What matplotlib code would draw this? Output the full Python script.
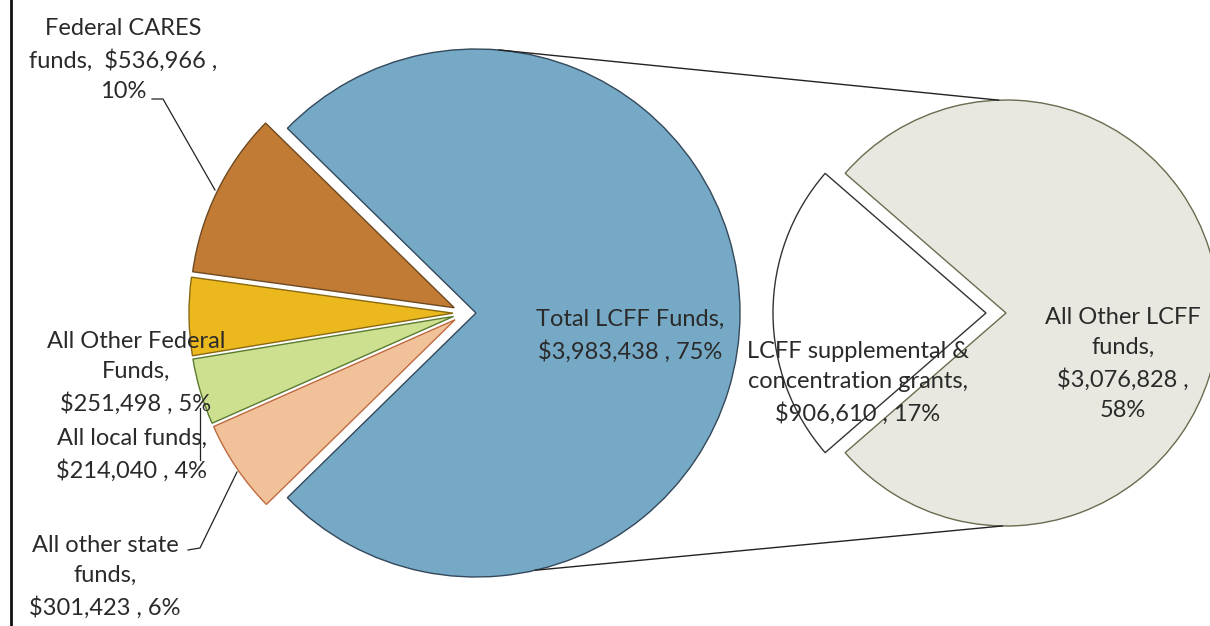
import numpy as np
import matplotlib
matplotlib.use("Agg")
import matplotlib.pyplot as plt

# data
main_labels = ["Total LCFF Funds", "Federal CARES funds", "All Other Federal Funds",
               "All local funds", "All other state funds"]
main_values = [3983438, 536966, 251498, 214040, 301423]
main_pct = ["75%", "10%", "5%", "4%", "6%"]

sub_labels = ["LCFF supplemental & concentration grants", "All Other LCFF funds"]
sub_values = [906610, 3076828]
sub_pct = ["17%", "58%"]

main_colors = ["#76a9c6", "#c27b34", "#ebb81e", "#cde08f", "#f1c29a"]
main_edges = ["#33485a", "#6e4a22", "#8a6a10", "#5a7a30", "#c06a40"]
sub_colors = ["#ffffff", "#e8e8e0"]

W, H = 1210, 626
fig = plt.figure(figsize=(W / 100, H / 100), dpi=100)
ax = fig.add_axes([0, 0, 1, 1])


def px(x, y):
    # image pixel coords (top-left origin) -> data coords
    return x, H - y


# left pie (explode is in data units = pixels here)
c1 = px(465, 313)
r1 = 264
blue_deg = main_values[0] / sum(main_values) * 360
wedges, _ = ax.pie(main_values, colors=main_colors, startangle=-blue_deg / 2,
                   center=c1, radius=r1,
                   explode=[11, 12, 12, 12, 12],
                   wedgeprops=dict(linewidth=1.0), frame=True)
for w, ec in zip(wedges, main_edges):
    w.set_edgecolor(ec)

# right pie
c2 = px(1006, 313)
r2 = 213
white_deg = sub_values[0] / sum(sub_values) * 360
wedges2, _ = ax.pie(sub_values, colors=sub_colors, startangle=180 - white_deg / 2,
                    center=c2, radius=r2, explode=[20, 0],
                    wedgeprops=dict(linewidth=1.0, edgecolor="#333333"), frame=True)
wedges2[1].set_edgecolor("#6b6b50")

ax.set_xlim(0, W)
ax.set_ylim(0, H)
ax.set_aspect("equal")
ax.axis("off")

# connector lines
bx = c1[0] + 11
for a1, a2 in [(85, 92), (-77, -91)]:
    p1 = (bx + r1 * np.cos(np.radians(a1)), c1[1] + r1 * np.sin(np.radians(a1)))
    p2 = (c2[0] + r2 * np.cos(np.radians(a2)), c2[1] + r2 * np.sin(np.radians(a2)))
    ax.plot([p1[0], p2[0]], [p1[1], p2[1]], color="#222222", lw=1.0)

# left border
ax.plot([11, 11], [0, H], color="#111111", lw=2)

fs = 17
font = "Lato"
ls = 1.55
tc = "#2a2a2a"


def label(x, y, s):
    ax.text(*px(x, y), s, ha="center", va="center", fontsize=fs, family=font,
            linespacing=ls, color=tc)


label(123, 60, "Federal CARES\nfunds,  $536,966 ,\n10%")
label(136, 373, "All Other Federal\nFunds,\n$251,498 , 5%")
label(132, 455, "All local funds,\n$214,040 , 4%")
label(105, 577, "All other state\nfunds,\n$301,423 , 6%")
label(630, 336, "Total LCFF Funds,\n$3,983,438 , 75%")
label(858, 383, "LCFF supplemental &\nconcentration grants,\n$906,610 , 17%")
label(1123, 364, "All Other LCFF\nfunds,\n$3,076,828 ,\n58%")


def leader(pts):
    xs, ys = zip(*[px(x, y) for x, y in pts])
    ax.plot(xs, ys, color="#222222", lw=0.9)


leader([(152, 99), (163, 99), (215, 190)])
leader([(200, 408), (200, 460)])
leader([(188, 550), (200, 548), (237, 472)])

fig.savefig("out.png", dpi=100)
